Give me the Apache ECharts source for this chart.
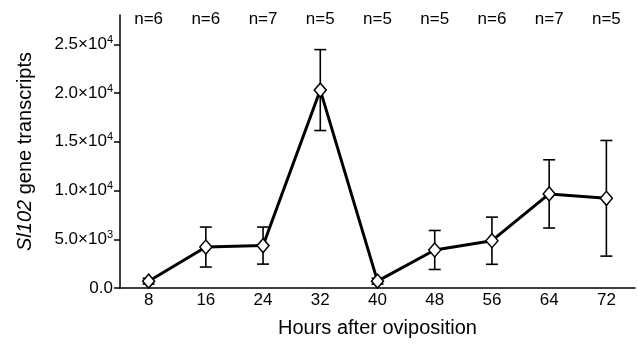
<!DOCTYPE html>
<html>
<head>
<meta charset="utf-8">
<script src="https://cdn.jsdelivr.net/npm/echarts@6/dist/echarts.min.js"></script>
<style>
  html, body { margin: 0; padding: 0; background: #fff; }
  #chart { width: 638px; height: 344px; }
</style>
</head>
<body>
<div id="chart"></div>
<script>
var hours = ['8', '16', '24', '32', '40', '48', '56', '64', '72'];
var nLabels = ['n=6', 'n=6', 'n=7', 'n=5', 'n=5', 'n=5', 'n=6', 'n=7', 'n=5'];
var means = [700, 4200, 4350, 20300, 700, 3900, 4850, 9650, 9200];
var sds = [300, 2050, 1900, 4150, 300, 2000, 2420, 3500, 5930];
var yTicks = [0, 5000, 10000, 15000, 20000, 25000];

function sciLabel(v) {
    if (v === 0) return '{b|0.0}';
    var e = Math.floor(Math.log10(v));
    var m = (v / Math.pow(10, e)).toFixed(1);
    return '{b|' + m + '×10}{s|' + e + '}';
}

var errData = hours.map(function(h, i) {
    return [i, means[i] - sds[i], means[i] + sds[i]];
});

var font = 'Liberation Sans, Arial, sans-serif';

var chart = echarts.init(document.getElementById('chart'));
chart.setOption({
    animation: false,
    backgroundColor: '#fff',
    textStyle: { fontFamily: font, color: '#000' },
    grid: { left: 120, right: 3, top: 15, bottom: 56 },
    xAxis: [{
        type: 'category',
        data: hours,
        boundaryGap: true,
        name: 'Hours after oviposition',
        nameLocation: 'middle',
        nameGap: 30,
        nameTextStyle: { fontSize: 20, color: '#000', fontFamily: font },
        axisLine: { lineStyle: { color: '#000', width: 1.5 } },
        axisTick: { alignWithLabel: true, length: 7, lineStyle: { color: '#000', width: 1.5 } },
        axisLabel: { fontSize: 17, color: '#000', margin: 4, fontFamily: font }
    }, {
        type: 'category',
        data: nLabels,
        boundaryGap: true,
        position: 'top',
        axisLine: { show: false },
        axisTick: { show: false },
        axisLabel: { inside: true, margin: -4, fontSize: 17, color: '#000', fontFamily: font }
    }],
    yAxis: {
        type: 'value',
        min: 0,
        max: 28000,
        name: '{i|Sl102} gene transcripts',
        nameLocation: 'middle',
        nameGap: 85,
        nameTextStyle: {
            fontSize: 20, color: '#000', fontFamily: font,
            rich: { i: { fontSize: 20, fontStyle: 'italic', color: '#000', fontFamily: font } }
        },
        splitLine: { show: false },
        axisLine: { show: true, lineStyle: { color: '#000', width: 1.5 } },
        axisTick: { show: true, length: 6, customValues: yTicks, lineStyle: { color: '#000', width: 1.5 } },
        axisLabel: {
            customValues: yTicks,
            margin: 7,
            formatter: sciLabel,
            rich: {
                b: { fontSize: 17, color: '#000', fontFamily: font, lineHeight: 20 },
                s: { fontSize: 11, color: '#000', fontFamily: font, lineHeight: 12, verticalAlign: 'top' }
            }
        }
    },
    series: [{
        type: 'custom',
        data: errData,
        z: 3,
        renderItem: function(params, api) {
            var x = api.value(0);
            var lo = api.coord([x, api.value(1)]);
            var hi = api.coord([x, api.value(2)]);
            var w = 6;
            var st = { stroke: '#000', lineWidth: 1.6 };
            return {
                type: 'group',
                children: [
                    { type: 'line', shape: { x1: lo[0], y1: lo[1], x2: hi[0], y2: hi[1] }, style: st },
                    { type: 'line', shape: { x1: lo[0] - w, y1: lo[1], x2: lo[0] + w, y2: lo[1] }, style: st },
                    { type: 'line', shape: { x1: hi[0] - w, y1: hi[1], x2: hi[0] + w, y2: hi[1] }, style: st }
                ]
            };
        }
    }, {
        type: 'line',
        data: means,
        z: 4,
        symbol: 'diamond',
        symbolSize: [12, 14],
        lineStyle: { color: '#000', width: 3 },
        itemStyle: { color: '#fff', borderColor: '#000', borderWidth: 1.5 }
    }]
});
</script>
</body>
</html>
